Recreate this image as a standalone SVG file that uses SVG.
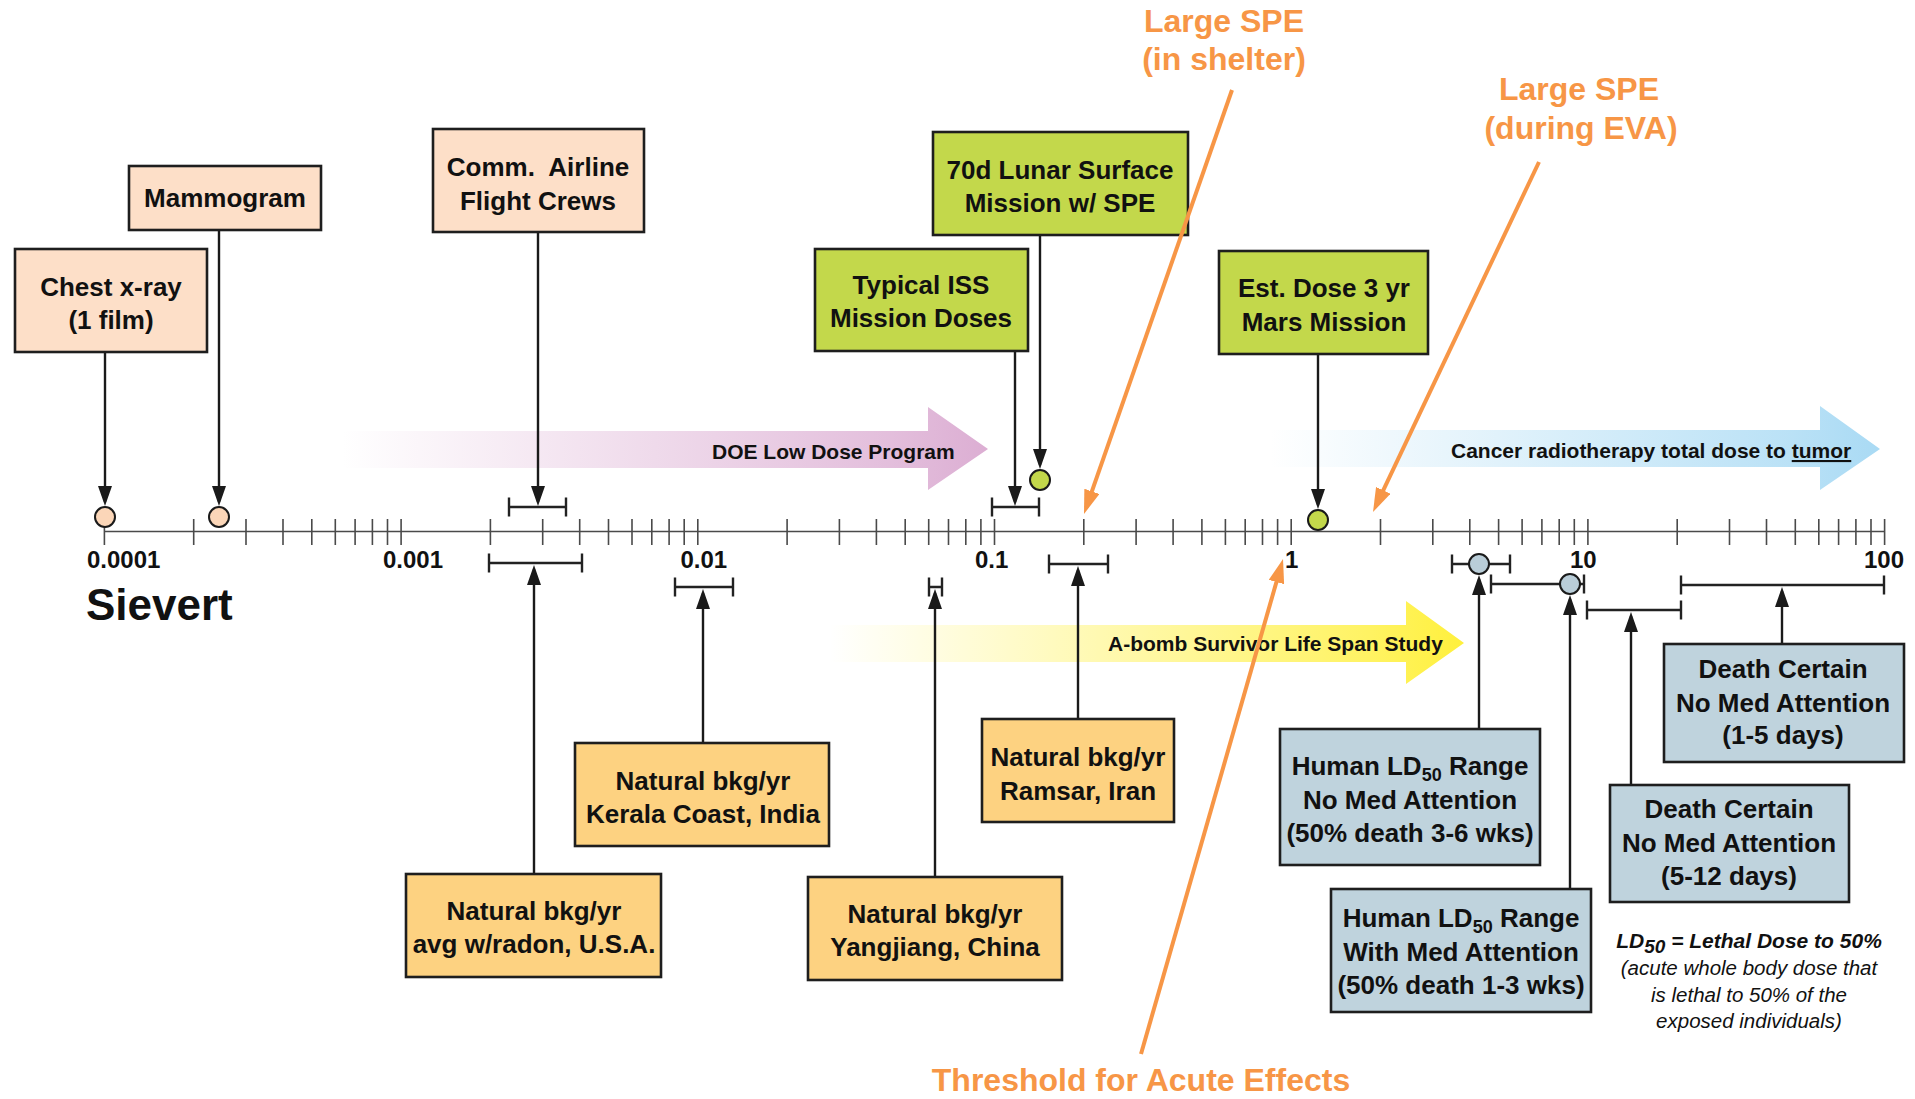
<svg xmlns="http://www.w3.org/2000/svg" width="1915" height="1099" viewBox="0 0 1915 1099">
<style>
  .box{stroke:#1e1e1e;stroke-width:2.6}
  .peach{fill:#fddfc8}
  .orng{fill:#fdd281}
  .green{fill:#c3d84b}
  .blue{fill:#bfd3dd}
  .bt{font-family:"Liberation Sans",Arial,sans-serif;font-weight:bold;font-size:26px;text-anchor:middle;fill:#111}
  .axis{stroke:#4a4a4a;stroke-width:1.6;fill:none}
  .lab{font-family:"Liberation Sans",Arial,sans-serif;font-weight:bold;font-size:24px;fill:#111}
  .conn{stroke:#1a1a1a;stroke-width:2.4;fill:none}
  .bar{stroke:#222;stroke-width:2.4;fill:none}
  .dot{stroke:#1a1a1a;stroke-width:2}
  .ot{font-family:"Liberation Sans",Arial,sans-serif;font-weight:bold;font-size:32px;text-anchor:middle;fill:#f79646}
  .oline{stroke:#f79646;stroke-width:4;fill:none}
  .at{font-family:"Liberation Sans",Arial,sans-serif;font-weight:bold;font-size:21px;fill:#111}
  .note{font-family:"Liberation Sans",Arial,sans-serif;font-style:italic;font-size:20.5px;text-anchor:middle;fill:#111}
</style>
<defs>
  <marker id="ah" viewBox="0 0 20 14" markerWidth="20" markerHeight="14" refX="16" refY="7" orient="auto" markerUnits="userSpaceOnUse">
    <path d="M0,0 L20,7 L0,14 Z" fill="#1a1a1a"/>
  </marker>
  <marker id="oh" viewBox="0 0 24 16" markerWidth="24" markerHeight="16" refX="17" refY="8" orient="auto" markerUnits="userSpaceOnUse">
    <path d="M0,0 L24,8 L0,16 Z" fill="#f79646"/>
  </marker>
  <linearGradient id="gDoe" gradientUnits="userSpaceOnUse" x1="342" y1="0" x2="988" y2="0">
    <stop offset="0" stop-color="#dcaed3" stop-opacity="0"/>
    <stop offset="0.85" stop-color="#dcaed3" stop-opacity="0.8"/>
    <stop offset="1" stop-color="#dcaed3" stop-opacity="1"/>
  </linearGradient>
  <linearGradient id="gCan" gradientUnits="userSpaceOnUse" x1="1270" y1="0" x2="1880" y2="0">
    <stop offset="0" stop-color="#a9daf4" stop-opacity="0"/>
    <stop offset="0.85" stop-color="#a9daf4" stop-opacity="0.8"/>
    <stop offset="1" stop-color="#a9daf4" stop-opacity="1"/>
  </linearGradient>
  <linearGradient id="gAb" gradientUnits="userSpaceOnUse" x1="830" y1="0" x2="1464" y2="0">
    <stop offset="0" stop-color="#fff03c" stop-opacity="0"/>
    <stop offset="0.85" stop-color="#fff03c" stop-opacity="0.8"/>
    <stop offset="1" stop-color="#fff03c" stop-opacity="1"/>
  </linearGradient>
</defs>
<rect width="1915" height="1099" fill="#ffffff"/>

<g id="band-arrows">
  <g id="doe">
    <path d="M342,431 H928 V407 L988,449 L928,490 V468 H342 Z" fill="url(#gDoe)"/>
    <text class="at" x="712" y="459">DOE Low Dose Program</text>
  </g>
  <g id="cancer">
    <path d="M1270,430 H1820 V406 L1880,449 L1820,490 V467 H1270 Z" fill="url(#gCan)"/>
    <text class="at" x="1451" y="458">Cancer radiotherapy total dose to <tspan text-decoration="underline">tumor</tspan></text>
  </g>
  <g id="abomb">
    <path d="M830,625 H1406 V601 L1464,643 L1406,684 V662 H830 Z" fill="url(#gAb)"/>
    <text class="at" x="1108" y="651">A-bomb Survivor Life Span Study</text>
  </g>
</g>

<g id="axis">
  <line class="axis" x1="104.4" y1="531.5" x2="1884.6" y2="531.5"/>
  <path class="axis" d="M104.4,519V545 M193.7,519V545 M246.0,519V545 M283.0,519V545 M311.8,519V545 M335.3,519V545 M355.1,519V545 M372.4,519V545 M387.5,519V545
  M401.1,519V545 M490.4,519V545 M542.7,519V545 M579.7,519V545 M608.5,519V545 M632.0,519V545 M651.8,519V545 M669.1,519V545 M684.2,519V545
  M697.8,519V545 M787.1,519V545 M839.4,519V545 M876.4,519V545 M905.2,519V545 M928.7,519V545 M948.5,519V545 M965.8,519V545 M980.9,519V545
  M994.5,519V545 M1083.8,519V545 M1136.1,519V545 M1173.1,519V545 M1201.9,519V545 M1225.4,519V545 M1245.2,519V545 M1262.5,519V545 M1277.6,519V545
  M1291.2,519V545 M1380.5,519V545 M1432.8,519V545 M1469.8,519V545 M1498.6,519V545 M1522.1,519V545 M1541.9,519V545 M1559.2,519V545 M1574.3,519V545
  M1587.9,519V545 M1677.2,519V545 M1729.5,519V545 M1766.5,519V545 M1795.3,519V545 M1818.8,519V545 M1838.6,519V545 M1855.9,519V545 M1871.0,519V545
  M1884.6,519V545"/>
  <text class="lab" x="87" y="568">0.0001</text>
  <text class="lab" x="383" y="568">0.001</text>
  <text class="lab" x="680.5" y="568">0.01</text>
  <text class="lab" x="975" y="568">0.1</text>
  <text class="lab" x="1285" y="568">1</text>
  <text class="lab" x="1570" y="568">10</text>
  <text class="lab" x="1864" y="568">100</text>
  <text class="lab" x="86" y="620" style="font-size:44px">Sievert</text>
</g>

<g id="connectors">
  <path class="conn" d="M105,352 V502" marker-end="url(#ah)"/>
  <path class="conn" d="M219,230 V502" marker-end="url(#ah)"/>
  <path class="conn" d="M538,232 V502" marker-end="url(#ah)"/>
  <path class="conn" d="M1040,235 V465" marker-end="url(#ah)"/>
  <path class="conn" d="M1015,351 V502" marker-end="url(#ah)"/>
  <path class="conn" d="M1318,354 V505" marker-end="url(#ah)"/>
  <path class="conn" d="M534,874 V569" marker-end="url(#ah)"/>
  <path class="conn" d="M703,743 V593" marker-end="url(#ah)"/>
  <path class="conn" d="M935,877 V593" marker-end="url(#ah)"/>
  <path class="conn" d="M1078,719 V570" marker-end="url(#ah)"/>
  <path class="conn" d="M1479,729 V579" marker-end="url(#ah)"/>
  <path class="conn" d="M1570,889 V599" marker-end="url(#ah)"/>
  <path class="conn" d="M1631,785 V616" marker-end="url(#ah)"/>
  <path class="conn" d="M1782,644 V591" marker-end="url(#ah)"/>
</g>

<g id="ranges">
  <path class="bar" d="M509,507 H566 M509,497.5 V516.5 M566,497.5 V516.5"/>
  <path class="bar" d="M992,507 H1039 M992,497.5 V516.5 M1039,497.5 V516.5"/>
  <path class="bar" d="M489,563 H582 M489,553.5 V572.5 M582,553.5 V572.5"/>
  <path class="bar" d="M675,587 H733 M675,577.5 V596.5 M733,577.5 V596.5"/>
  <path class="bar" d="M929,587 H942 M929,577.5 V596.5 M942,577.5 V596.5"/>
  <path class="bar" d="M1049,564 H1108 M1049,554.5 V573.5 M1108,554.5 V573.5"/>
  <path class="bar" d="M1452,564 H1510 M1452,554.5 V573.5 M1510,554.5 V573.5"/>
  <path class="bar" d="M1491,584 H1584 M1491,574.5 V593.5 M1584,574.5 V593.5"/>
  <path class="bar" d="M1587,610 H1681 M1587,600.5 V619.5 M1681,600.5 V619.5"/>
  <path class="bar" d="M1681,585 H1884 M1681,575.5 V594.5 M1884,575.5 V594.5"/>
</g>

<g id="points">
  <circle class="dot" cx="105" cy="517" r="10" fill="#fbd6b8"/>
  <circle class="dot" cx="219" cy="517" r="10" fill="#fbd6b8"/>
  <circle class="dot" cx="1040" cy="480" r="10" fill="#c3d84b"/>
  <circle class="dot" cx="1318" cy="520" r="10" fill="#c3d84b"/>
  <circle class="dot" cx="1479" cy="564" r="10" fill="#b9cdd8"/>
  <circle class="dot" cx="1570" cy="584" r="10" fill="#b9cdd8"/>
</g>

<g id="chest-xray">
  <rect class="box peach" x="15" y="249" width="192" height="103"/>
  <text class="bt" x="111" y="296">Chest x-ray</text>
  <text class="bt" x="111" y="329">(1 film)</text>
</g>
<g id="mammogram">
  <rect class="box peach" x="129" y="166" width="192" height="64"/>
  <text class="bt" x="225" y="207">Mammogram</text>
</g>
<g id="airline">
  <rect class="box peach" x="433" y="129" width="211" height="103"/>
  <text class="bt" x="538" y="176" xml:space="preserve">Comm.  Airline</text>
  <text class="bt" x="538" y="210">Flight Crews</text>
</g>
<g id="lunar">
  <rect class="box green" x="933" y="132" width="255" height="103"/>
  <text class="bt" x="1060" y="179">70d Lunar Surface</text>
  <text class="bt" x="1060" y="212">Mission w/ SPE</text>
</g>
<g id="iss">
  <rect class="box green" x="815" y="249" width="213" height="102"/>
  <text class="bt" x="921" y="294">Typical ISS</text>
  <text class="bt" x="921" y="327">Mission Doses</text>
</g>
<g id="mars">
  <rect class="box green" x="1219" y="251" width="209" height="103"/>
  <text class="bt" x="1324" y="297">Est. Dose 3 yr</text>
  <text class="bt" x="1324" y="331">Mars Mission</text>
</g>
<g id="kerala">
  <rect class="box orng" x="575" y="743" width="254" height="103"/>
  <text class="bt" x="703" y="790">Natural bkg/yr</text>
  <text class="bt" x="703" y="823">Kerala Coast, India</text>
</g>
<g id="usa">
  <rect class="box orng" x="406" y="874" width="255" height="103"/>
  <text class="bt" x="534" y="920">Natural bkg/yr</text>
  <text class="bt" x="534" y="953">avg w/radon, U.S.A.</text>
</g>
<g id="yangjiang">
  <rect class="box orng" x="808" y="877" width="254" height="103"/>
  <text class="bt" x="935" y="923">Natural bkg/yr</text>
  <text class="bt" x="935" y="956">Yangjiang, China</text>
</g>
<g id="ramsar">
  <rect class="box orng" x="982" y="719" width="192" height="103"/>
  <text class="bt" x="1078" y="766">Natural bkg/yr</text>
  <text class="bt" x="1078" y="800">Ramsar, Iran</text>
</g>
<g id="ld50-nomed">
  <rect class="box blue" x="1280" y="729" width="260" height="136"/>
  <text class="bt" x="1410" y="775">Human LD<tspan font-size="18" dy="6">50</tspan><tspan dy="-6"> Range</tspan></text>
  <text class="bt" x="1410" y="809">No Med Attention</text>
  <text class="bt" x="1410" y="842">(50% death 3-6 wks)</text>
</g>
<g id="ld50-withmed">
  <rect class="box blue" x="1331" y="889" width="260" height="123"/>
  <text class="bt" x="1461" y="927">Human LD<tspan font-size="18" dy="6">50</tspan><tspan dy="-6"> Range</tspan></text>
  <text class="bt" x="1461" y="961">With Med Attention</text>
  <text class="bt" x="1461" y="994">(50% death 1-3 wks)</text>
</g>
<g id="death-5-12">
  <rect class="box blue" x="1610" y="785" width="239" height="117"/>
  <text class="bt" x="1729" y="818">Death Certain</text>
  <text class="bt" x="1729" y="852">No Med Attention</text>
  <text class="bt" x="1729" y="885">(5-12 days)</text>
</g>
<g id="death-1-5">
  <rect class="box blue" x="1664" y="644" width="240" height="118"/>
  <text class="bt" x="1783" y="678">Death Certain</text>
  <text class="bt" x="1783" y="712">No Med Attention</text>
  <text class="bt" x="1783" y="744">(1-5 days)</text>
</g>

<g id="ld50-note">
  <text class="note" x="1749" y="948" style="font-weight:bold;font-size:21px">LD<tspan font-size="19" dy="5">50</tspan><tspan dy="-5"> = Lethal Dose to 50%</tspan></text>
  <text class="note" x="1749" y="975">(acute whole body dose that</text>
  <text class="note" x="1749" y="1002">is lethal to 50% of the</text>
  <text class="note" x="1749" y="1028">exposed individuals)</text>
</g>

<g id="orange-callouts">
  <g id="spe-shelter">
    <text class="ot" x="1224" y="32">Large SPE</text>
    <text class="ot" x="1224" y="70">(in shelter)</text>
    <path class="oline" d="M1232,90 L1086.3,507.4" marker-end="url(#oh)"/>
  </g>
  <g id="spe-eva">
    <text class="ot" x="1579" y="100">Large SPE</text>
    <text class="ot" x="1581" y="139">(during EVA)</text>
    <path class="oline" d="M1539,162 L1376,505.7" marker-end="url(#oh)"/>
  </g>
  <g id="threshold">
    <path class="oline" d="M1141,1054 L1281.1,565.7" marker-end="url(#oh)"/>
    <text class="ot" x="1141" y="1091">Threshold for Acute Effects</text>
  </g>
</g>
</svg>
